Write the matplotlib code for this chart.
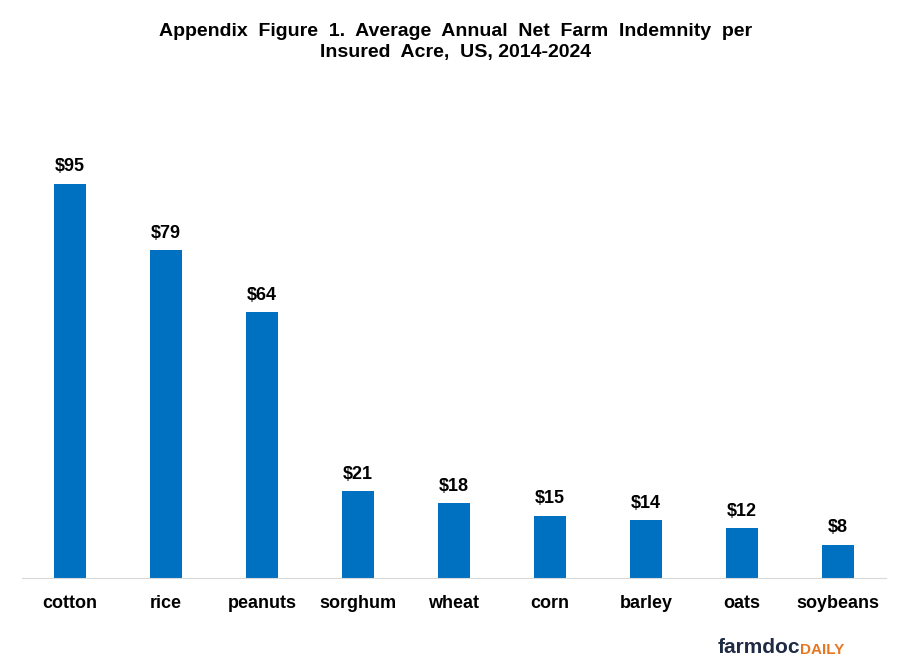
import matplotlib
matplotlib.use("Agg")
import matplotlib.pyplot as plt

crops = ["cotton", "rice", "peanuts", "sorghum", "wheat", "corn", "barley", "oats", "soybeans"]
indemnity = [95, 79, 64, 21, 18, 15, 14, 12, 8]

plt.rcParams["font.family"] = ["Liberation Sans", "DejaVu Sans"]
fig = plt.figure(figsize=(9.11, 6.62), dpi=100)
ax = fig.add_axes([22 / 911, 1 - 578 / 662, 864 / 911, 498 / 662])

x = range(len(crops))
ax.bar(x, indemnity, width=0.333, color="#0070C0")
for xi, v in zip(x, indemnity):
    ax.text(xi, v + 2, f"${v}", ha="center", va="bottom", fontsize=13, weight="bold")

ax.set_xlim(-0.5, len(crops) - 0.5)
ax.set_ylim(0, 120)
ax.set_xticks(list(x))
ax.set_xticklabels(crops, fontsize=13, weight="bold")
ax.tick_params(axis="x", length=0, pad=12)
ax.set_yticks([])
for s in ["top", "right", "left"]:
    ax.spines[s].set_visible(False)
ax.spines["bottom"].set_color("#d9d9d9")

fig.text(0.5, 0.965, "Appendix  Figure  1.  Average  Annual  Net  Farm  Indemnity  per\nInsured  Acre,  US, 2014-2024",
         ha="center", va="top", fontsize=14, weight="bold", linespacing=1.3)

fig.text(0.878, 0.008, "farmdoc", ha="right", va="bottom", fontsize=15, weight="bold", color="#1f2a44")
fig.text(0.878, 0.008, "DAILY", ha="left", va="bottom", fontsize=11, weight="bold", color="#e87722")

fig.savefig("out.png", dpi=100)
